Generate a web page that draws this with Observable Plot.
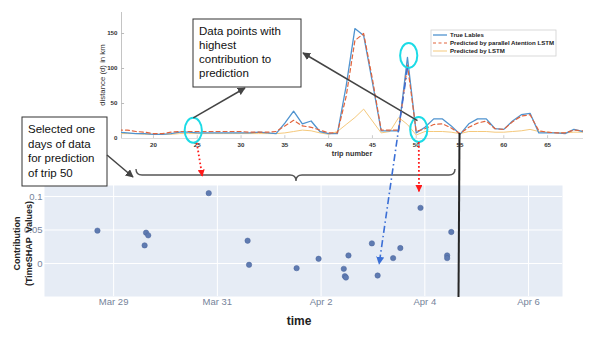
<!DOCTYPE html>
<html>
<head>
<meta charset="utf-8">
<script src="https://cdn.jsdelivr.net/npm/d3@7"></script>
<script src="https://cdn.jsdelivr.net/npm/@observablehq/plot@0.6"></script>
<style>
  html, body { margin: 0; padding: 0; background: white; }
  #wrap { position: relative; width: 598px; height: 337px; overflow: hidden; }
  #wrap svg { position: absolute; left: 0; }
</style>
</head>
<body>
<div id="wrap"></div>
<script>
// ---------- data: top chart (distance per trip) ----------
const trips = [16,17,18,19,20,21,22,23,24,25,26,27,28,29,30,31,32,33,34,35,36,37,38,39,40,41,42,43,44,45,46,47,48,49,50,51,52,53,54,55,56,57,58,59,60,61,62,63,64,65,66,67,68,69];
const trueLabels = [9,8,7,7,6,6,7,9,9,8,8,8,8,8,8,8,9,8,7,22,39,21,25,10,7,7,75,157,147,80,11,11,11,116,8,16,28,28,18,6,21,28,28,14,13,25,34,36,8,8,8,7,13,10];
const attentionLSTM = [12,12,10,9,7,7,9,10,10,10,10,10,10,10,10,9,9,9,10,18,26,18,16,12,8,8,60,140,150,85,12,12,12,105,10,14,20,21,15,7,16,22,25,14,13,24,32,34,11,9,8,8,12,11];
const plainLSTM = [7,7,7,6,6,6,6,7,7,7,7,7,7,7,7,7,7,7,7,8,10,12,11,8,6,10,20,30,42,25,8,10,30,20,5,10,10,10,9,7,10,10,10,9,9,10,11,13,10,9,8,8,9,9];
const topXTicks = [20,25,30,35,40,45,50,55,60,65];
const topYTicks = [0,50,100,150];
const seriesNames = ["True Lables", "Predicted by parallel Atention LSTM", "Predicted by LSTM"];

// ---------- data: bottom chart (TimeSHAP contributions) ----------
const shapTimes = ["2021-03-28T16:30Z","2021-03-29T15:00Z","2021-03-29T16:00Z","2021-03-29T14:20Z","2021-03-30T20:00Z",
  "2021-03-31T14:00Z","2021-03-31T14:40Z","2021-04-01T12:40Z","2021-04-01T22:50Z","2021-04-02T10:30Z","2021-04-02T11:00Z",
  "2021-04-02T11:30Z","2021-04-02T12:40Z","2021-04-02T23:30Z","2021-04-03T02:10Z","2021-04-03T09:20Z","2021-04-03T12:40Z",
  "2021-04-03T22:00Z","2021-04-04T10:20Z","2021-04-04T10:20Z","2021-04-04T12:15Z"];
const shapValues = [0.049,0.046,0.042,0.027,0.105,0.034,-0.002,-0.007,0.007,-0.008,-0.019,-0.021,0.012,0.030,-0.018,0.008,0.023,0.083,0.012,0.008,0.047];
const bottomXTicks = ["2021-03-29T00:00Z","2021-03-31T00:00Z","2021-04-02T00:00Z","2021-04-04T00:00Z","2021-04-06T00:00Z"];
const bottomYTicks = [0, 0.05, 0.1];

// ---------- layout ----------
const W = 598;
const topH = 165, topM = {l: 121, r: 15, t: 12, b: 27};
const topXDomain = [16.35, 69.1], topYDomain = [0, 180];
const botTop = 165, botH = 172, botM = {l: 44, r: 36, t: 20, b: 41};
const botXDomain = [new Date("2021-03-27T16:00Z"), new Date("2021-04-06T15:43Z")];
const botYDomain = [-0.0493, 0.1164];

const COL_TRUE = "#4f93cf", COL_ATT = "#e2643c", COL_LSTM = "#f5c97c";
const FONT = "Liberation Sans, Arial, sans-serif";

const rows = trips.map((t, i) => ({trip: t, trueKm: trueLabels[i], att: attentionLSTM[i], lstm: plainLSTM[i]}));
const shap = shapTimes.map((t, i) => ({time: new Date(t), value: shapValues[i]}));
const dateTicks = bottomXTicks.map(d => new Date(d));

const wrap = document.getElementById("wrap");

const topChart = Plot.plot({
  width: W, height: topH,
  marginLeft: topM.l, marginRight: topM.r, marginTop: topM.t, marginBottom: topM.b,
  style: {fontFamily: FONT, fontSize: "6.2px", fontWeight: "bold", color: "#333", background: "transparent", overflow: "visible"},
  x: {domain: topXDomain, ticks: topXTicks, tickSize: 0, tickPadding: 4, label: null},
  y: {domain: topYDomain, ticks: topYTicks, tickSize: 0, tickPadding: 4, label: null},
  marks: [
    Plot.ruleY([0], {stroke: "#dcdcdc"}),
    Plot.ruleX([topXDomain[0]], {stroke: "#c4c4c4", y1: 0, y2: 180}),
    Plot.ruleY([50, 100, 150], {x1: topXDomain[0], x2: 16.7, stroke: "#bbb"}),
    Plot.ruleX(topXTicks, {y1: 0, y2: 4, stroke: "#ccc"}),
    Plot.line(rows, {x: "trip", y: "lstm", stroke: COL_LSTM, strokeWidth: 1, clip: true}),
    Plot.line(rows, {x: "trip", y: "trueKm", stroke: COL_TRUE, strokeWidth: 1.3, clip: true}),
    Plot.line(rows, {x: "trip", y: "att", stroke: COL_ATT, strokeWidth: 1.2, strokeDasharray: "4,3", clip: true})
  ]
});
topChart.style.top = "0px";
wrap.appendChild(topChart);

const botChart = Plot.plot({
  width: W, height: botH,
  marginLeft: botM.l, marginRight: botM.r, marginTop: botM.t, marginBottom: botM.b,
  style: {fontFamily: FONT, fontSize: "9.5px", color: "#75839a", background: "transparent", overflow: "visible"},
  x: {type: "utc", domain: botXDomain, ticks: dateTicks, tickFormat: d3.utcFormat("%b %-d"), tickSize: 0, tickPadding: 2, label: null},
  y: {domain: botYDomain, ticks: bottomYTicks, tickFormat: d => String(d), tickSize: 0, tickPadding: 2, label: null},
  marks: [
    Plot.frame({fill: "#e6ecf5", stroke: "none"}),
    Plot.ruleX(dateTicks, {stroke: "white", strokeWidth: 1}),
    Plot.ruleY(bottomYTicks, {stroke: "white", strokeWidth: 1}),
    Plot.dot(shap, {x: "time", y: "value", r: 2.7, fill: "#5f7bb1", stroke: "#4a659c", strokeWidth: 0.5})
  ]
});
botChart.style.top = botTop + "px";
wrap.appendChild(botChart);

// ---------- annotation overlay (positions via the same scales) ----------
const xTop = d3.scaleLinear(topXDomain, [topM.l, W - topM.r]);
const yTop = d3.scaleLinear(topYDomain, [topH - topM.b, topM.t]);
const xBot = d3.scaleUtc(botXDomain, [botM.l, W - botM.r]);
const yBot = d3.scaleLinear(botYDomain, [botTop + botH - botM.b, botTop + botM.t]);

const ov = d3.select(wrap).append("svg")
  .attr("width", W).attr("height", 337)
  .style("top", "0px").style("font-family", FONT);
const defs = ov.append("defs");
function marker(id, color, size) {
  defs.append("marker").attr("id", id).attr("viewBox", "0 0 10 10")
    .attr("refX", 9).attr("refY", 5).attr("markerUnits", "userSpaceOnUse")
    .attr("markerWidth", size).attr("markerHeight", size).attr("orient", "auto")
    .append("path").attr("d", "M0,0L10,5L0,10z").attr("fill", color);
}
marker("mg", "#444", 8);
marker("mr", "#ff1a1a", 7);
marker("mb", "#3b6fd6", 8);

// black vertical line at trip 55 through the contribution plot
ov.append("line").attr("x1", xTop(55)).attr("y1", yTop(7)).attr("x2", xTop(55) - 1).attr("y2", yBot(botYDomain[0]) + 1)
  .attr("stroke", "#262626").attr("stroke-width", 2);

// legend
const lg = ov.append("g");
lg.append("rect").attr("x", 431).attr("y", 30).attr("width", 125).attr("height", 26)
  .attr("fill", "white").attr("stroke", "#d0d0d0").attr("stroke-width", 0.8);
const lgStyles = [{c: COL_TRUE, d: null, w: 1.3}, {c: COL_ATT, d: "3,2.5", w: 1.2}, {c: COL_LSTM, d: null, w: 1}];
seriesNames.forEach((name, i) => {
  const y = 35 + i * 8;
  lg.append("line").attr("x1", 433).attr("x2", 447).attr("y1", y).attr("y2", y)
    .attr("stroke", lgStyles[i].c).attr("stroke-width", lgStyles[i].w).attr("stroke-dasharray", lgStyles[i].d);
  lg.append("text").attr("x", 450).attr("y", y + 2.1).text(name)
    .attr("font-size", 6.1).attr("font-weight", "bold").attr("fill", "#222");
});

// axis titles
ov.append("text").attr("transform", `translate(103,${(yTop(0) + yTop(180)) / 2}) rotate(-90)`)
  .attr("text-anchor", "middle").attr("dominant-baseline", "middle")
  .attr("font-size", 7.8).attr("fill", "#333").text("distance (d) in km");
ov.append("text").attr("x", (xTop(topXDomain[0]) + xTop(topXDomain[1])) / 2).attr("y", 156)
  .attr("text-anchor", "middle").attr("font-size", 7.3).attr("font-weight", "bold").attr("fill", "#333").text("trip number");
ov.append("text").attr("x", 299).attr("y", 325).attr("text-anchor", "middle")
  .attr("font-size", 12).attr("font-weight", "bold").attr("fill", "#222").text("time");
const yMid = (yBot(botYDomain[0]) + yBot(botYDomain[1])) / 2 + 3;
ov.append("text").attr("transform", `translate(18,${yMid}) rotate(-90)`).attr("text-anchor", "middle")
  .attr("dominant-baseline", "middle").attr("font-size", 9).attr("font-weight", "bold").attr("fill", "#222").text("Contribution");
ov.append("text").attr("transform", `translate(29.5,${yMid}) rotate(-90)`).attr("text-anchor", "middle")
  .attr("dominant-baseline", "middle").attr("font-size", 9).attr("font-weight", "bold").attr("fill", "#222")
  .attr("xml:space", "preserve").text("(TimeSHAP  Values)");

// curly brace over the selected day
ov.append("path").attr("d", "M136,169 Q136,175 142,175 L290,175 Q296,175 296,181 Q296,175 302,175 L449,175 Q455,175 455,169")
  .attr("fill", "none").attr("stroke", "#555").attr("stroke-width", 1.4);

// cyan ellipses around highest-contribution points
const rings = [{trip: 24.6, km: 11}, {trip: 49.2, km: 118}, {trip: 50.35, km: 12}];
rings.forEach(r => ov.append("ellipse").attr("cx", xTop(r.trip)).attr("cy", yTop(r.km))
  .attr("rx", 8.6).attr("ry", 12.5).attr("fill", "none").attr("stroke", "#1cdbe6").attr("stroke-width", 2));

// text boxes
function box(x, y, w, h, lines, baselines) {
  ov.append("rect").attr("x", x).attr("y", y).attr("width", w).attr("height", h)
    .attr("fill", "white").attr("stroke", "#333").attr("stroke-width", 1);
  lines.forEach((t, i) => ov.append("text").attr("x", x + 6).attr("y", baselines[i])
    .attr("font-size", 11.5).attr("fill", "#111").text(t));
}
box(193, 19, 108, 68, ["Data points with", "highest", "contribution to", "prediction"], [35, 49, 63, 77]);
box(22, 117, 85, 69, ["Selected one", "days of data", "for prediction", "of trip 50"], [133, 147.5, 162, 176.5]);

// gray arrows to the boxes / brace
function arrow(x1, y1, x2, y2, color, width, dash, mk) {
  ov.append("line").attr("x1", x1).attr("y1", y1).attr("x2", x2).attr("y2", y2)
    .attr("stroke", color).attr("stroke-width", width).attr("stroke-dasharray", dash)
    .attr("marker-end", `url(#${mk})`);
}
arrow(xTop(24.6), yTop(11) - 12.5, 245, 88, "#444", 1.5, null, "mg");
arrow(xTop(50.2), yTop(12) - 9, 303, 53, "#444", 1.5, null, "mg");
arrow(107, 155, 133, 177, "#444", 1.5, null, "mg");

// dotted arrows linking trips to contributions
const p18 = shap[17], p15 = shap[14];
arrow(xTop(25), yTop(11) + 12.5, xTop(25) + 5.5, 176, "#ff1a1a", 1.8, "1.6,2.4", "mr");
arrow(xTop(50.35), yTop(12) + 12.5, xBot(p18.time) - 1, yBot(p18.value) - 16, "#ff1a1a", 1.8, "1.6,2.4", "mr");
arrow(xTop(49.05), yTop(100), xBot(p15.time) + 2, yBot(p15.value) - 11, "#3b6fd6", 1.6, "7,3,1.5,3", "mb");
</script>
</body>
</html>
